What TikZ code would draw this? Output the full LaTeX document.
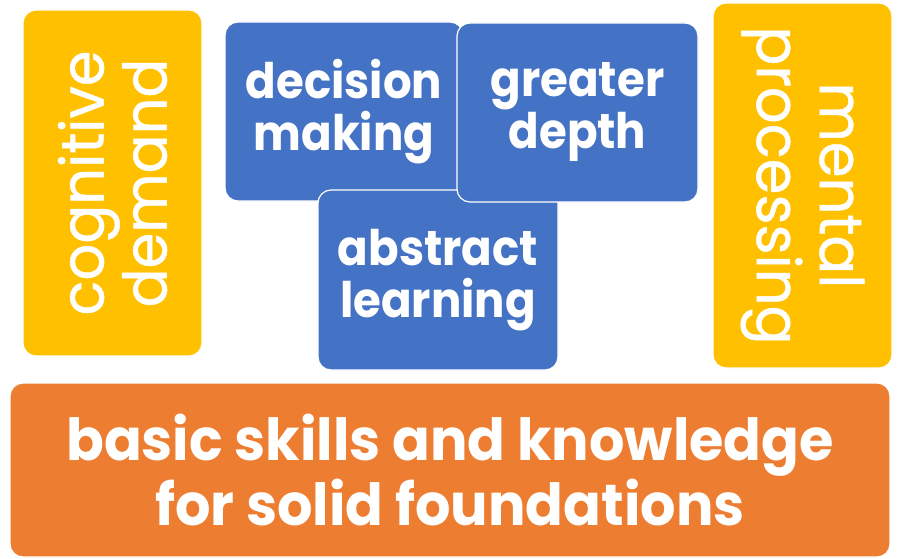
\documentclass[tikz,border=0pt]{standalone}
\usepackage{fontspec}
\setmainfont{Poppins}
\definecolor{gold}{HTML}{FFC000}
\definecolor{steel}{HTML}{4472C4}
\definecolor{amber}{HTML}{ED7D31}
\tikzstyle{sidebox} = [rectangle, rounded corners=13pt, draw=white, line width=1.2pt, fill=gold, text=white, align=center, inner sep=0pt, font=\fontsize{60}{63}\selectfont\addfontfeatures{FakeStretch=0.96, FakeBold=0.8}]
\tikzstyle{corebox} = [rectangle, rounded corners=13pt, draw=white, line width=1.2pt, fill=steel, text=white, align=center, inner sep=0pt, minimum height=179pt, font=\bfseries\fontsize{49}{52}\selectfont\addfontfeatures{FakeStretch=0.92}]
\tikzstyle{basebox} = [rectangle, rounded corners=13pt, draw=white, line width=1.2pt, fill=amber, text=white, align=center, inner sep=0pt, font=\bfseries\fontsize{58}{65}\selectfont\addfontfeatures{FakeStretch=0.96}]

\begin{document}
\begin{tikzpicture}[x=1pt, y=-1pt]
\useasboundingbox (0,0) rectangle (905,559);

\node (cognitive) [sidebox, rotate=90, minimum width=346pt, minimum height=179pt] at (112.5,183) {cognitive\\demand};
\node (mental) [sidebox, rotate=-90, minimum width=365pt, minimum height=179pt] at (802.5,185.5) {mental\\processing};

\node (decision) [corebox, minimum width=238pt] at (344,111.5) {decision\\making};
\node (abstract) [corebox, minimum width=240pt, minimum height=180pt] at (438,280) {abstract\\learning};
\node (depth) [corebox, minimum width=241pt] at (577.5,112.5) {greater\\depth};

\node (basics) [basebox, minimum width=880pt, minimum height=174pt] at (450,470) {basic skills and knowledge\\for solid foundations};

\end{tikzpicture}
\end{document}
